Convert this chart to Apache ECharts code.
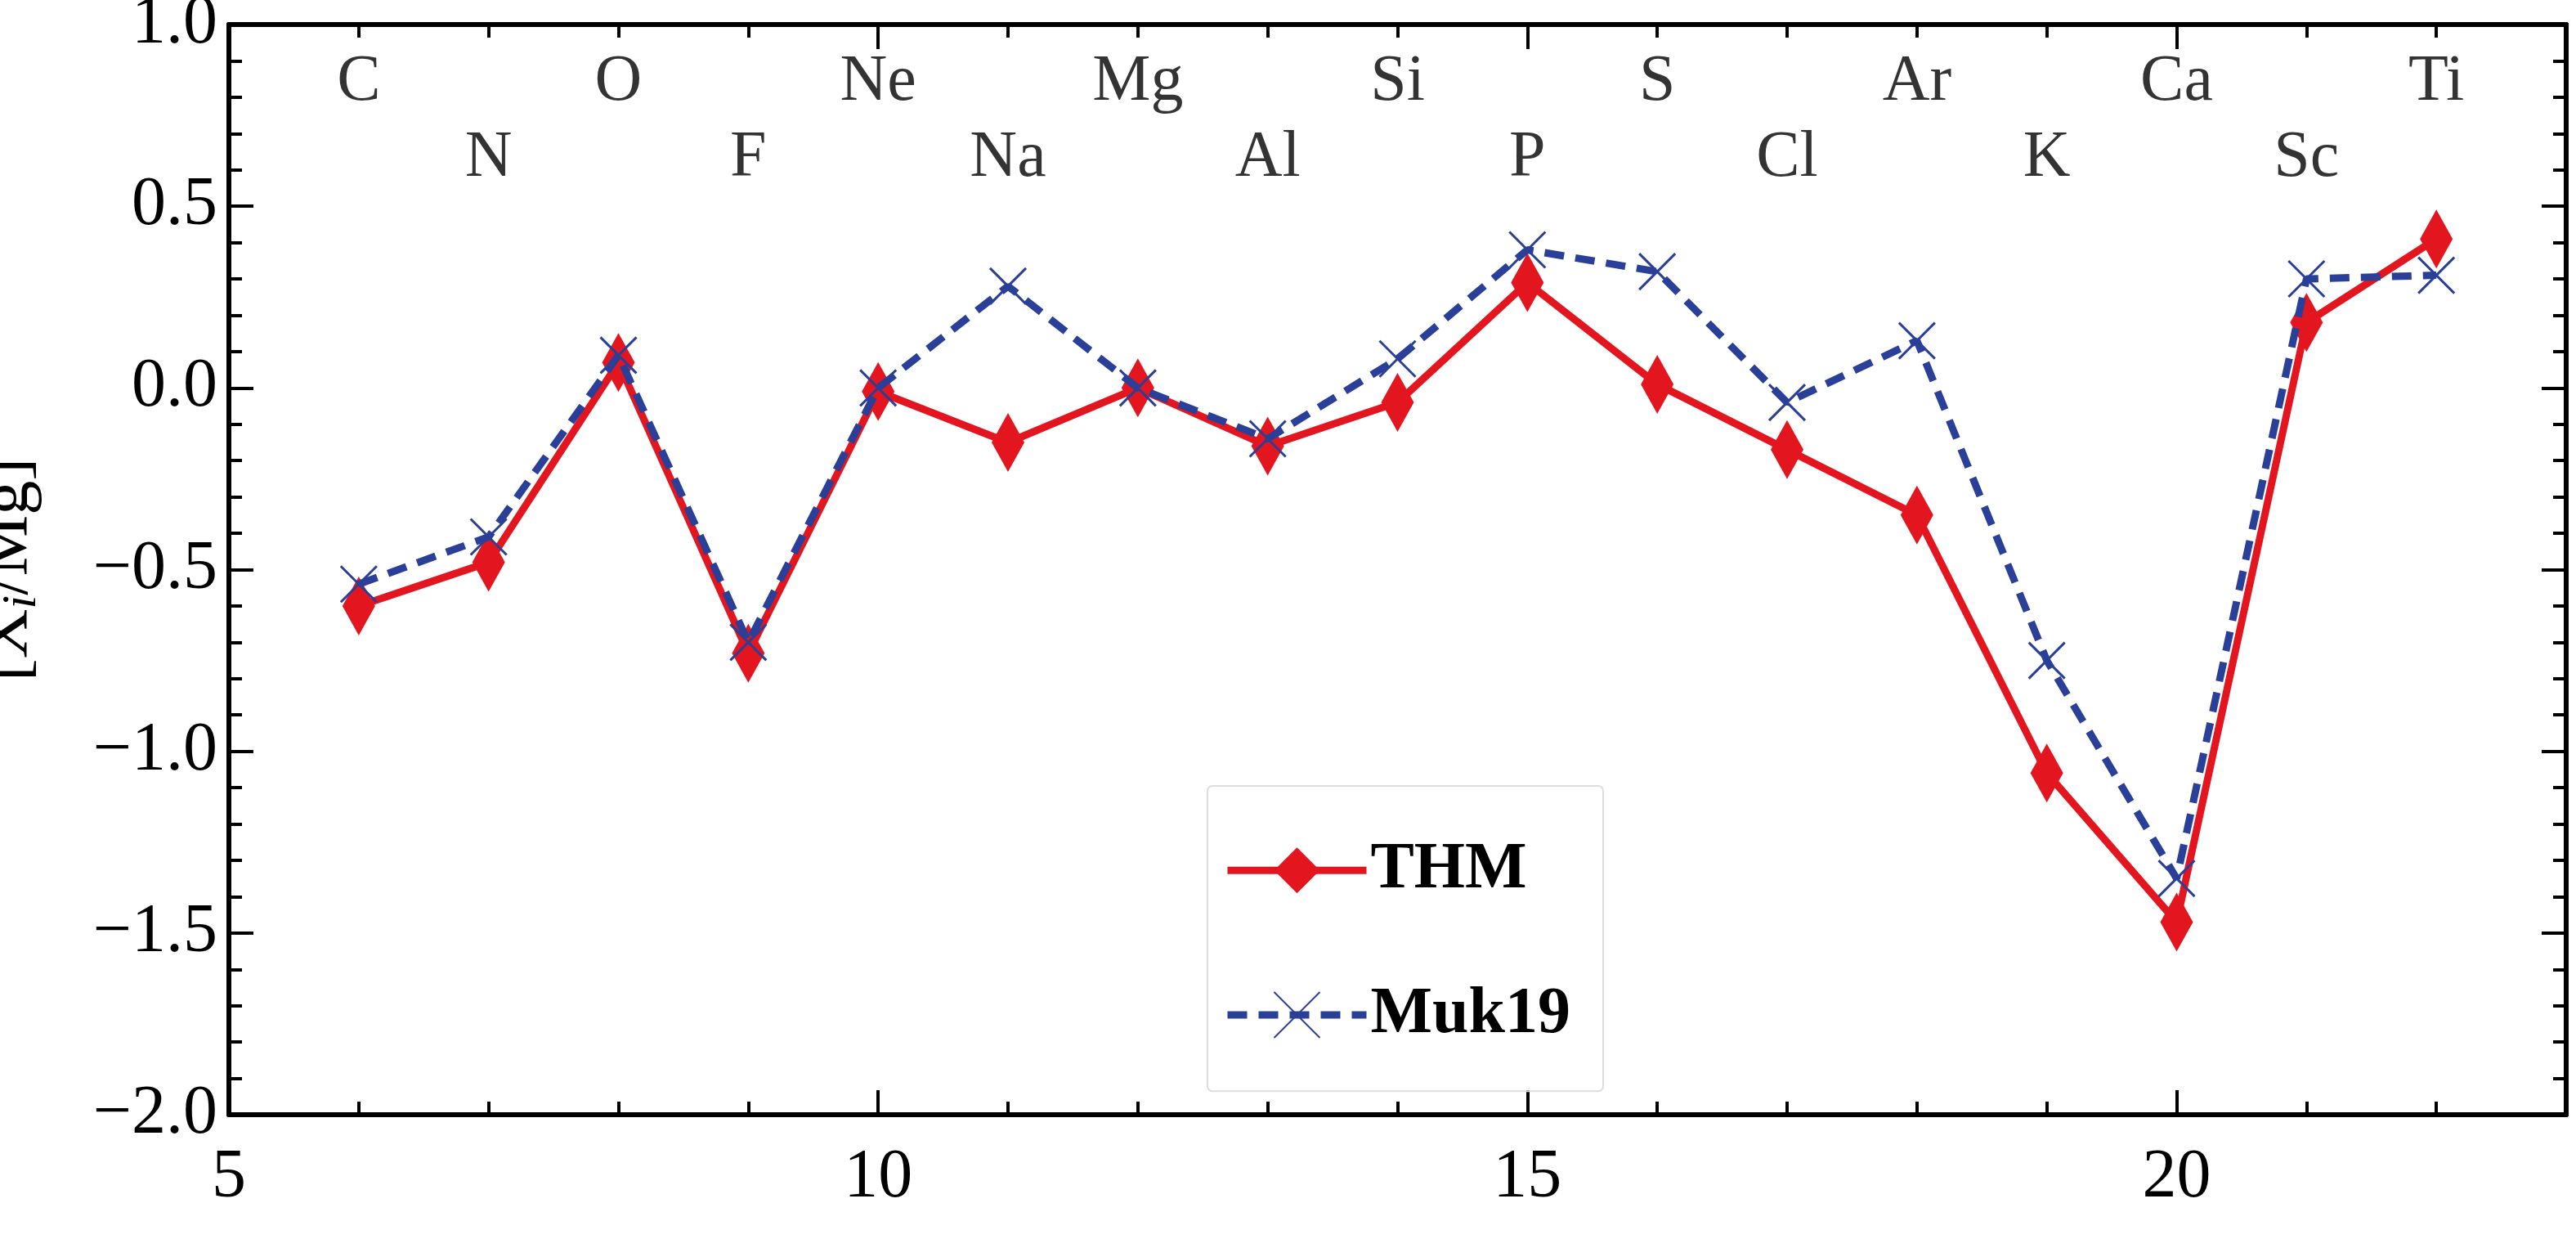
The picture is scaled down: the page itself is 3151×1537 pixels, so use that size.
<!DOCTYPE html>
<html>
<head>
    <script src="https://cdn.jsdelivr.net/npm/echarts@6/dist/echarts.min.js"></script>
    <style>body{margin:0;background:#fff}</style>
</head>
<body>
    <div id="myChart" style="width: 3151px; height: 1537px;"></div>
    <script>
        // atomic numbers and abundances
        const zValues = [6, 7, 8, 9, 10, 11, 12, 13, 14, 15, 16, 17, 18, 19, 20, 21, 22];
        const elements = ['C', 'N', 'O', 'F', 'Ne', 'Na', 'Mg', 'Al', 'Si', 'P', 'S', 'Cl', 'Ar', 'K', 'Ca', 'Sc', 'Ti'];
        const thm = [-0.60, -0.48, 0.07, -0.73, -0.01, -0.15, 0.00, -0.16, -0.04, 0.29, 0.01, -0.17, -0.35, -1.06, -1.47, 0.18, 0.41];
        const muk19 = [-0.54, -0.41, 0.09, -0.70, 0.00, 0.28, 0.00, -0.14, 0.08, 0.38, 0.32, -0.04, 0.13, -0.75, -1.35, 0.30, 0.31];
        const labelRows = [0.84, 0.63];

        const font = 'Liberation Serif';
        const crossPath = 'path://M0,0L10,10M10,0L0,10';

        const myChart = echarts.init(document.getElementById('myChart'));

        function axisBase() {
            return {
                axisLine: { onZero: false, lineStyle: { color: '#000', width: 6 } },
                axisTick: { inside: true, length: 30, lineStyle: { color: '#000', width: 4 } },
                minorTick: { show: true, splitNumber: 5, length: 16, lineStyle: { color: '#000', width: 4 } },
                splitLine: { show: false }
            };
        }

        const option = {
            animation: false,
            grid: { left: 280, right: 12, top: 30, bottom: 174, outerBoundsMode: 'none', containLabel: false },
            xAxis: [
                Object.assign(axisBase(), {
                    type: 'value', min: 5, max: 23, interval: 5,
                    axisLabel: { fontFamily: font, fontSize: 84, color: '#000', margin: 14,
                        formatter: v => v > 22 ? '' : v },
                    name: 'Z', nameLocation: 'middle', nameGap: 110,
                    nameTextStyle: { fontFamily: font, fontSize: 84, fontStyle: 'italic', color: '#000' }
                }),
                Object.assign(axisBase(), {
                    type: 'value', min: 5, max: 23, interval: 5, position: 'top',
                    axisLabel: { show: false }
                })
            ],
            yAxis: [
                Object.assign(axisBase(), {
                    type: 'value', min: -2, max: 1, interval: 0.5,
                    axisLabel: { fontFamily: font, fontSize: 84, color: '#000', margin: 14,
                        formatter: v => (v < 0 ? '\u2212' + Math.abs(v).toFixed(1) : v.toFixed(1)) },
                    name: '[X{i|i}/Mg]', nameLocation: 'middle', nameGap: 205, nameRotate: 90,
                    nameTextStyle: { fontFamily: font, fontSize: 84, color: '#000',
                        rich: { i: { fontFamily: font, fontStyle: 'italic', fontSize: 60, color: '#000', verticalAlign: 'bottom', padding: [30, 0, 0, 0] } } }
                }),
                Object.assign(axisBase(), {
                    type: 'value', min: -2, max: 1, interval: 0.5, position: 'right',
                    axisLabel: { show: false }
                })
            ],
            legend: {
                left: 1477, top: 961, orient: 'vertical',
                padding: [40, 40, 30, 20], itemGap: 50,
                itemWidth: 170, itemHeight: 70,
                borderColor: '#ddd', borderWidth: 2, borderRadius: 6,
                lineStyle: { width: 9 },
                textStyle: { fontFamily: font, fontSize: 80, fontWeight: 'bold', color: '#000' },
                data: ['THM', 'Muk19']
            },
            series: [
                {
                    name: 'THM', type: 'line',
                    data: zValues.map((z, i) => [z, thm[i]]),
                    lineStyle: { color: '#e3161f', width: 9 },
                    itemStyle: { color: '#e3161f' },
                    symbol: 'diamond', symbolSize: [40, 72], z: 3
                },
                {
                    name: 'Muk19', type: 'line',
                    data: zValues.map((z, i) => [z, muk19[i]]),
                    lineStyle: { color: '#2a3f98', width: 9, type: [24, 14] },
                    itemStyle: { color: 'none', borderColor: '#2a3f98', borderWidth: 3 },
                    symbol: crossPath, symbolSize: 44, z: 4
                },
                {
                    type: 'scatter', silent: true, symbolSize: 0,
                    data: zValues.map((z, i) => [z, labelRows[i % 2]]),
                    label: {
                        show: true, position: 'inside',
                        formatter: p => elements[p.dataIndex],
                        fontFamily: font, fontSize: 80, color: '#000'
                    }
                }
            ]
        };
        myChart.setOption(option);
    </script>
</body>
</html>
